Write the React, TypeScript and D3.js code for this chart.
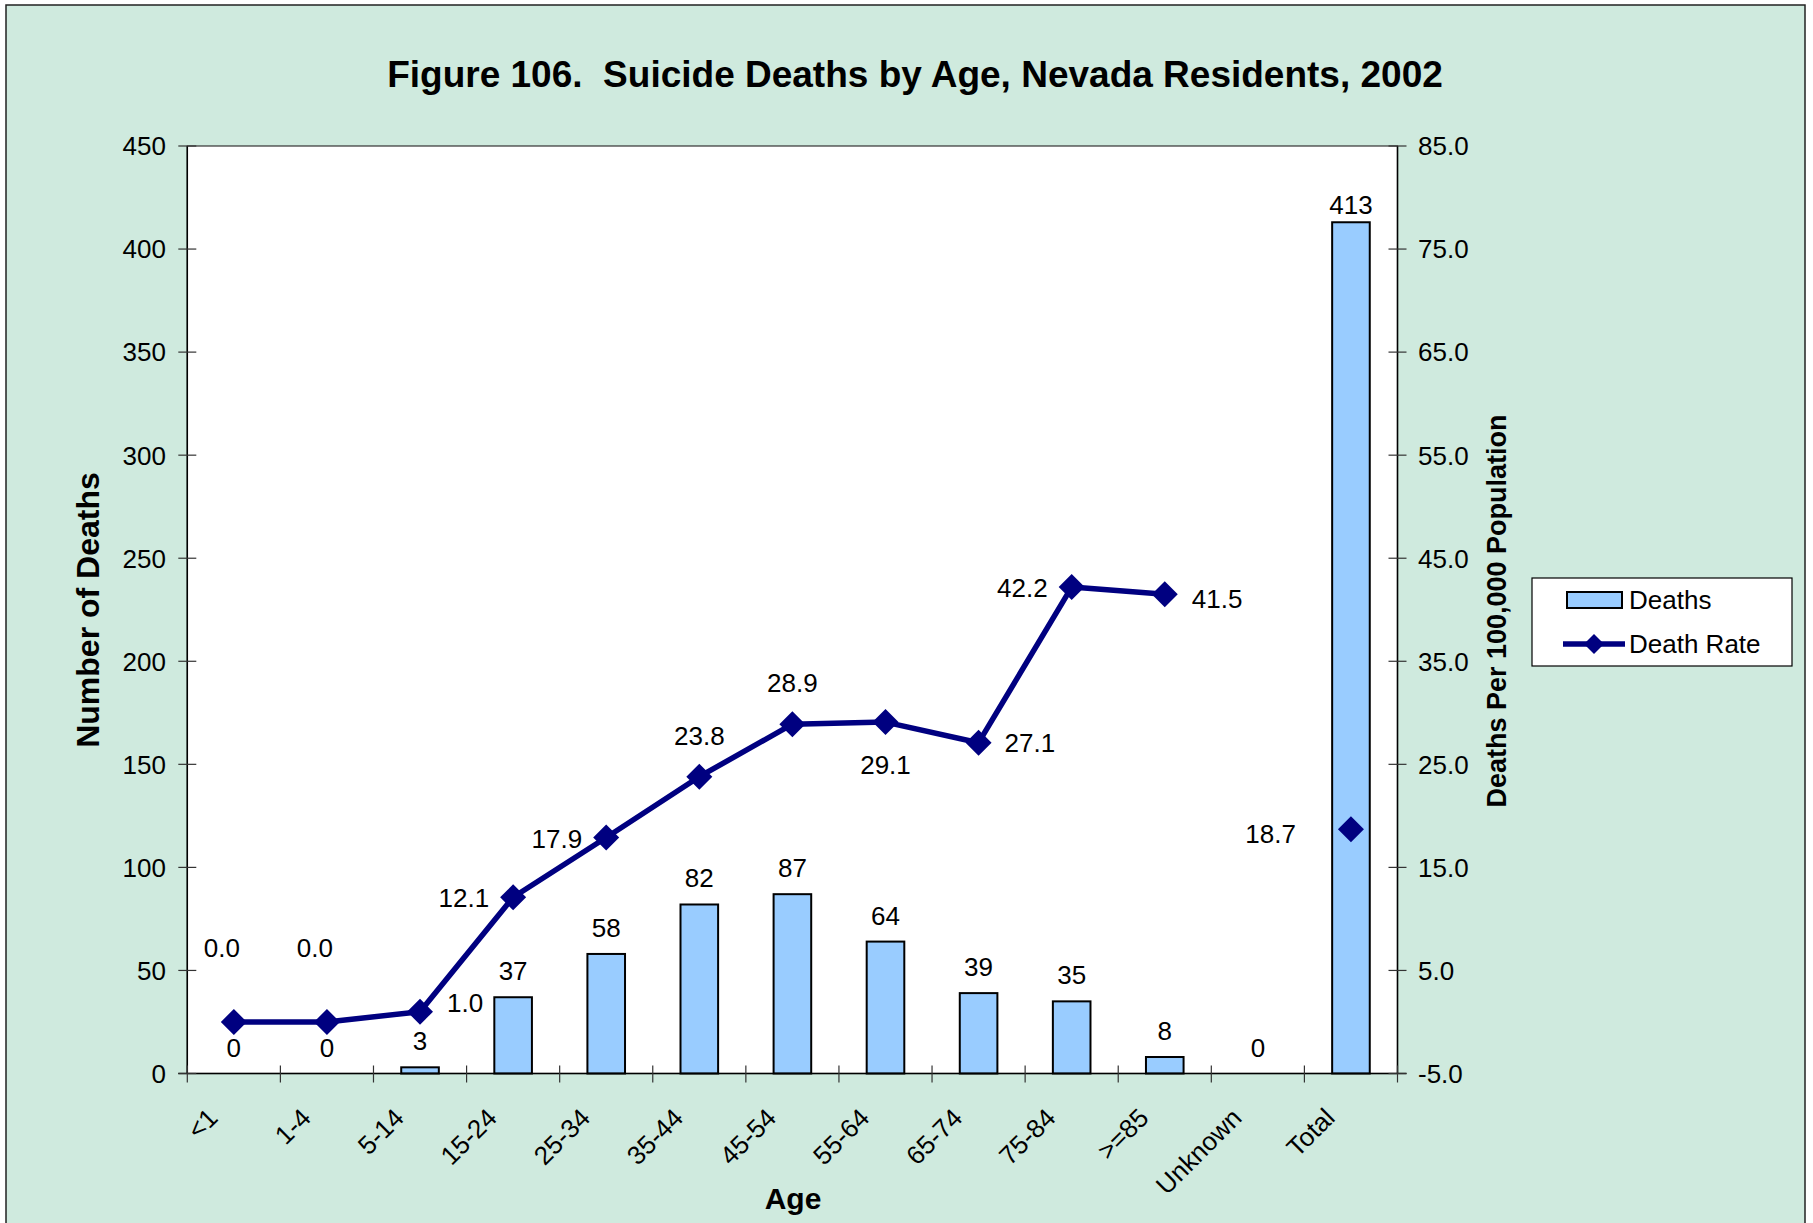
import React from "react";
import * as d3 from "d3";

const categories = ["<1", "1-4", "5-14", "15-24", "25-34", "35-44", "45-54", "55-64", "65-74", "75-84", ">=85", "Unknown", "Total"];
const deaths = [0, 0, 3, 37, 58, 82, 87, 64, 39, 35, 8, 0, 413];
const deathRate: (number | null)[] = [0.0, 0.0, 1.0, 12.1, 17.9, 23.8, 28.9, 29.1, 27.1, 42.2, 41.5, null, 18.7];
const leftTicks = [0, 50, 100, 150, 200, 250, 300, 350, 400, 450];
const rightTicks = [-5, 5, 15, 25, 35, 45, 55, 65, 75, 85];
// label placement for the rate labels (layout only)
const ratePlacement = ["raised", "raised", "rightHigh", "left", "left", "above", "above", "below", "right", "left", "rightLow", null, "farLeft"];

const W = 1813, H = 1223;
const PL = 187.3, PR = 1397.5, PT = 146, PB = 1073.5;
const FONT = "'Liberation Sans', Arial, Helvetica, sans-serif";
const BG = "#CFEADE";
const BAR = "#99CCFF";
const NAVY = "#000080";

export default function App() {
  const x = d3.scaleBand<string>().domain(categories).range([PL, PR]).padding(0);
  const bw = x.bandwidth();
  const barW = bw * 0.404;
  const yL = d3.scaleLinear().domain([0, 450]).range([PB, PT]);
  const yR = d3.scaleLinear().domain([-5, 85]).range([PB, PT]);
  const cx = (c: string) => (x(c) as number) + bw / 2;

  const pts = categories.map((c, i) => ({ c, v: deathRate[i] }));
  const line = d3
    .line<{ c: string; v: number | null }>()
    .defined((d) => d.v != null)
    .x((d) => cx(d.c))
    .y((d) => yR(d.v as number));

  const diamond = (px: number, py: number, r: number) =>
    `M${px},${py - r}L${px + r},${py}L${px},${py + r}L${px - r},${py}Z`;

  const boundaries = d3.range(categories.length + 1).map((i) => PL + i * bw);

  const rateLabel = (i: number) => {
    const v = deathRate[i];
    const p = ratePlacement[i];
    if (v == null || p == null) return null;
    const px = cx(categories[i]);
    const py = yR(v);
    let tx = px, ty = py, anchor = "middle";
    if (p === "above") { ty = py - 32; }
    else if (p === "raised") { tx = px - 12; ty = py - 65; }
    else if (p === "below") { ty = py + 52; }
    else if (p === "right") { tx = px + 26; ty = py + 9; anchor = "start"; }
    else if (p === "rightHigh") { tx = px + 27; ty = py; anchor = "start"; }
    else if (p === "rightLow") { tx = px + 27; ty = py + 14; anchor = "start"; }
    else if (p === "left") { tx = px - 24; ty = py + 10; anchor = "end"; }
    else if (p === "farLeft") { tx = px - 55; ty = py + 14; anchor = "end"; }
    return (
      <text key={"r" + i} x={tx} y={ty} textAnchor={anchor} fontSize={26} fill="#000">
        {v.toFixed(1)}
      </text>
    );
  };

  // labels of bars reaching near the top of the plot sit closer to the bar
  const barLabelY = (v: number) => yL(v) - (yL(v) - PT < 100 ? 8 : 17);

  return (
    <svg width={W} height={H} style={{ position: "absolute", left: 0, top: 0 }} fontFamily={FONT}>
      <rect x={0} y={0} width={W} height={H} fill="#fff" />
      <rect x={6} y={5} width={1799} height={1220} fill={BG} stroke="#222" strokeWidth={1.5} />
      <text x={915} y={87} textAnchor="middle" fontSize={37} fontWeight="bold">
        Figure 106.{"\u00A0\u00A0"}Suicide Deaths by Age, Nevada Residents, 2002
      </text>

      {/* plot area */}
      <rect x={PL} y={PT} width={PR - PL} height={PB - PT} fill="#fff" stroke="#333" strokeWidth={1.2} />

      {/* bars */}
      {categories.map((c, i) => (
        <rect key={"b" + i} x={cx(c) - barW / 2} y={yL(deaths[i])} width={barW} height={PB - yL(deaths[i])}
          fill={BAR} stroke="#000" strokeWidth={2} />
      ))}
      {categories.map((c, i) => (
        <text key={"bl" + i} x={cx(c)} y={barLabelY(deaths[i])} textAnchor="middle" fontSize={26}>
          {deaths[i]}
        </text>
      ))}

      {/* axes */}
      <line x1={PL} y1={PT} x2={PL} y2={PB} stroke="#000" strokeWidth={1.5} />
      <line x1={PR} y1={PT} x2={PR} y2={PB} stroke="#000" strokeWidth={1.5} />
      <line x1={PL - 9} y1={PB} x2={PR + 9} y2={PB} stroke="#000" strokeWidth={1.5} />
      {leftTicks.map((t) => (
        <g key={"lt" + t}>
          <line x1={PL - 9} x2={PL + 9} y1={yL(t)} y2={yL(t)} stroke="#333" strokeWidth={1.2} />
          <text x={166} y={yL(t)} dy="0.36em" textAnchor="end" fontSize={26}>{t}</text>
        </g>
      ))}
      {rightTicks.map((t) => (
        <g key={"rt" + t}>
          <line x1={PR - 9} x2={PR + 9} y1={yR(t)} y2={yR(t)} stroke="#333" strokeWidth={1.2} />
          <text x={1418} y={yR(t)} dy="0.36em" textAnchor="start" fontSize={26}>{t.toFixed(1)}</text>
        </g>
      ))}
      {boundaries.map((b, i) => (
        <line key={"xt" + i} x1={b} x2={b} y1={PB - 8} y2={PB + 9} stroke="#333" strokeWidth={1.2} />
      ))}
      {categories.map((c) => (
        <text key={"xl" + c} transform={`translate(${cx(c) - 21},${1113}) rotate(-45)`} dy="0.35em"
          textAnchor="end" fontSize={26}>
          {c}
        </text>
      ))}

      {/* line */}
      <path d={line(pts) || ""} fill="none" stroke={NAVY} strokeWidth={5.5} strokeLinejoin="round" />
      {pts.map((p, i) =>
        p.v == null ? null : <path key={"m" + i} d={diamond(cx(p.c), yR(p.v), 13)} fill={NAVY} />
      )}
      {categories.map((_, i) => rateLabel(i))}

      {/* axis titles */}
      <text transform="translate(88,610) rotate(-90)" dy="0.35em" textAnchor="middle" fontSize={32} fontWeight="bold">
        Number of Deaths
      </text>
      <text transform="translate(1497,611) rotate(-90)" dy="0.35em" textAnchor="middle" fontSize={27} fontWeight="bold">
        Deaths Per 100,000 Population
      </text>
      <text x={793} y={1198} dy="0.35em" textAnchor="middle" fontSize={30} fontWeight="bold">Age</text>

      {/* legend */}
      <rect x={1532} y={578} width={260} height={88} fill="#fff" stroke="#000" strokeWidth={1.2} />
      <rect x={1567} y={592} width={55} height={16} fill={BAR} stroke="#000" strokeWidth={2} />
      <text x={1629} y={600} dy="0.35em" fontSize={26}>Deaths</text>
      <line x1={1563} x2={1625} y1={644} y2={644} stroke={NAVY} strokeWidth={5.5} />
      <path d={diamond(1594, 644, 10)} fill={NAVY} />
      <text x={1629} y={644} dy="0.35em" fontSize={26}>Death Rate</text>
    </svg>
  );
}
